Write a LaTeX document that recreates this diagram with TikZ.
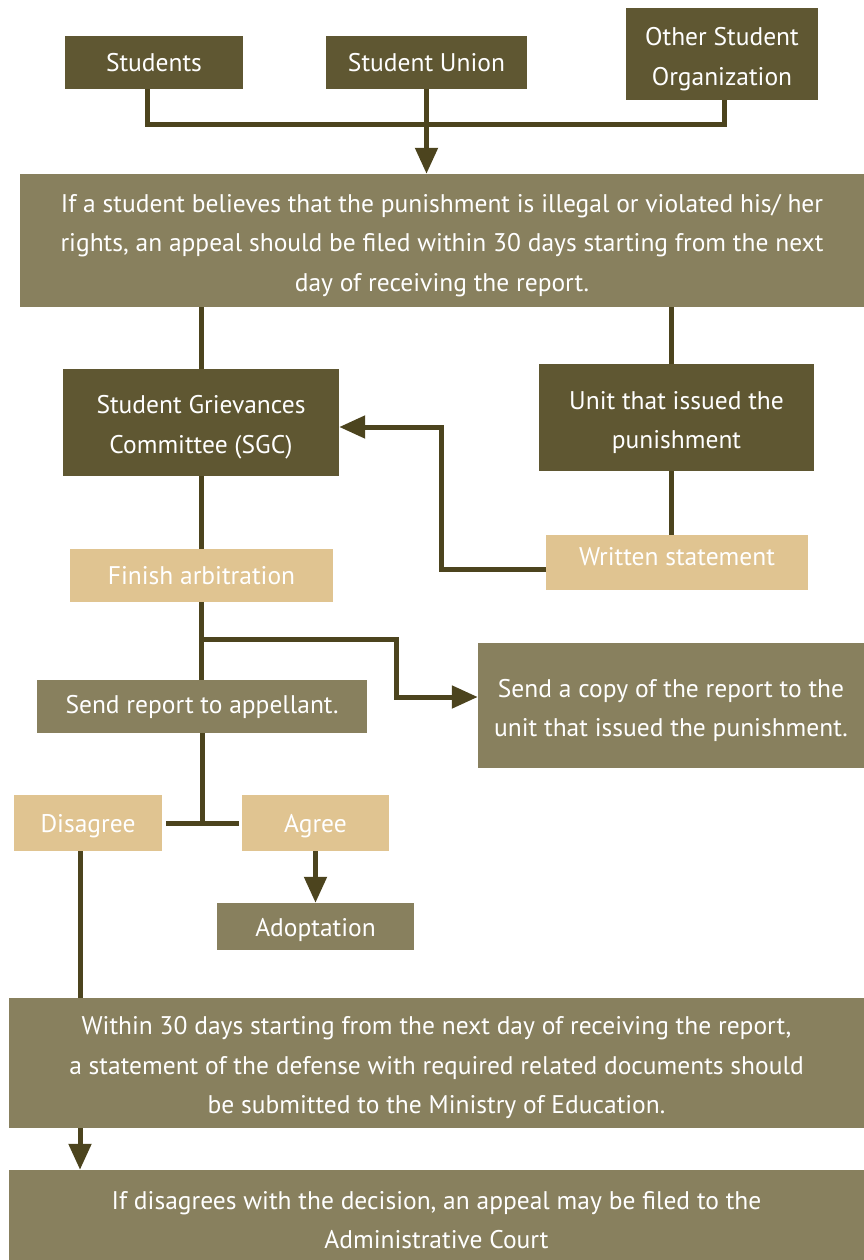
\documentclass[tikz,border=0pt]{standalone}
\usepackage{fontspec}
\setmainfont{PT Sans}
\usetikzlibrary{arrows.meta,calc}
\definecolor{dk}{RGB}{95,87,50}
\definecolor{md}{RGB}{136,128,94}
\definecolor{lt}{RGB}{224,196,145}
\definecolor{ln}{RGB}{76,68,30}
\newcommand\tpad{\rule{0pt}{28pt}}
\begin{document}
\begin{tikzpicture}[x=1pt,y=-1pt,
  box/.style={inner sep=0pt,text=white,align=center,font=\fontsize{25.5}{39.5}\selectfont},
  dkbox/.style={box,fill=dk},
  mdbox/.style={box,fill=md},
  ltbox/.style={box,fill=lt},
  conn/.style={draw=ln,line width=5pt},
  arr/.style={conn,-{Triangle[length=26pt,width=22pt]}}]
\useasboundingbox (0,0) rectangle (864,1260);
\node[dkbox,minimum width=178pt,minimum height=53pt] (stu) at (154,62.5) {Students};
\node[dkbox,minimum width=201pt,minimum height=53pt] (su) at (426.5,62.5) {Student Union};
\node[dkbox,minimum width=192pt,minimum height=92pt] (oso) at (722,54) {\tpad Other Student\\Organization};
\node[mdbox,minimum width=844pt,minimum height=133pt] (b1) at (442,240.5) {\tpad If a student believes that the punishment is illegal or violated his/ her\\rights, an appeal should be filed within 30 days starting from the next\\day of receiving the report.};
\node[dkbox,minimum width=276pt,minimum height=107pt] (sgc) at (201,422.5) {\tpad Student Grievances\\Committee (SGC)};
\node[dkbox,minimum width=275pt,minimum height=107pt] (unit) at (676.5,417.5) {\tpad Unit that issued the\\punishment};
\node[ltbox,minimum width=262pt,minimum height=55pt,text depth=12pt] (ws) at (677,562.5) {Written statement};
\node[ltbox,minimum width=263pt,minimum height=53pt] (fa) at (201.5,575.5) {Finish arbitration};
\node[mdbox,minimum width=386pt,minimum height=125pt] (copy) at (671,705.5) {\tpad Send a copy of the report to the\\unit that issued the punishment.};
\node[mdbox,minimum width=330pt,minimum height=53pt] (sr) at (202,706.5) {Send report to appellant.};
\node[ltbox,minimum width=148pt,minimum height=56pt,text height=24pt] (dis) at (88,823) {Disagree};
\node[ltbox,minimum width=147pt,minimum height=56pt,text height=24pt] (ag) at (315.5,823) {Agree};
\node[mdbox,minimum width=197pt,minimum height=47pt,text height=25pt] (ad) at (315.5,926.5) {Adoptation};
\node[mdbox,minimum width=855pt,minimum height=130pt] (b2) at (436.5,1063) {\tpad Within 30 days starting from the next day of receiving the report,\\a statement of the defense with required related documents should\\be submitted to the Ministry of Education.};
\node[mdbox,minimum width=855pt,minimum height=90pt] (b3) at (436.5,1215) {\tpad If disagrees with the decision, an appeal may be filed to the\\Administrative Court};
% connectors
\draw[conn] ([xshift=-7pt]stu.south) |- ([xshift=2pt]oso.south |- 0,125) -- ([xshift=2pt]oso.south);
\draw[arr] (su.south) -- (su.south |- b1.north);
\draw[conn] (sgc.north |- b1.south) -- (sgc.north);
\draw[conn] ([xshift=-5pt]unit.north |- b1.south) -- ([xshift=-5pt]unit.north);
\draw[conn] ([xshift=-5pt]unit.south) -- ([xshift=-5pt]unit.south |- ws.north);
\draw[arr] ([yshift=-7pt]ws.west) -| ([xshift=102pt,yshift=-4.5pt]sgc.east) -- ([yshift=-4.5pt]sgc.east);
\draw[conn] (sgc.south) -- (sgc.south |- fa.north);
\draw[conn] (fa.south) -- (fa.south |- sr.north);
\coordinate (br) at (202,639);
\draw[arr] (br) -| ([xshift=-81pt,yshift=8.5pt]copy.west) -- ([yshift=8.5pt]copy.west);
\coordinate (tj) at (202,823);
\draw[conn] (sr.south) -- (tj);
\draw[conn] ([xshift=4pt]dis.east) -- ([xshift=-3pt]ag.west);
\draw[arr] (ag.south) -- (ad.north);
\draw[conn] ([xshift=-8pt]dis.south) -- ([xshift=-8pt]dis.south |- b2.north);
\draw[arr] ([xshift=-8pt]dis.south |- b2.south) -- ([xshift=-8pt]dis.south |- b3.north);
\end{tikzpicture}
\end{document}
